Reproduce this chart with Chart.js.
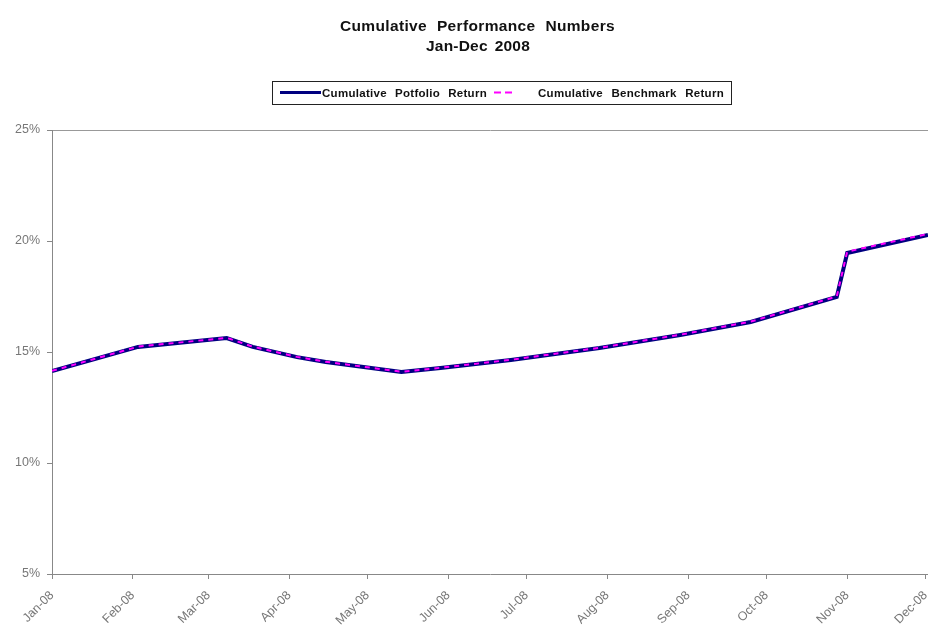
<!DOCTYPE html>
<html><head><meta charset="utf-8">
<script src="https://cdn.jsdelivr.net/npm/chart.js@4.4.0/dist/chart.umd.min.js"></script>
<style>html,body{margin:0;padding:0;background:#fff;}#wrap{width:928px;height:629px;position:relative;}</style>
</head><body><div id="wrap"><canvas id="c" width="928" height="629"></canvas></div>
<script>
const titleLines = ['Cumulative Performance Numbers', 'Jan-Dec 2008'];
const seriesNames = ['Cumulative Potfolio Return', 'Cumulative Benchmark Return'];
const monthLabels = ['Jan-08','Feb-08','Mar-08','Apr-08','May-08','Jun-08','Jul-08','Aug-08','Sep-08','Oct-08','Nov-08','Dec-08'];
const monthStartDays = [0,31,60,91,121,152,182,213,244,274,305,335];
const obsDays = [0,33,67,77,94,105,134,149,176,210,241,268,301,305,336];
const portfolioReturn = [14.14,15.23,15.63,15.23,14.77,14.55,14.10,14.28,14.64,15.18,15.77,16.35,17.48,19.46,20.27];
const benchmarkReturn = [14.15,15.24,15.64,15.24,14.78,14.56,14.11,14.29,14.65,15.19,15.78,16.37,17.50,19.52,20.32];
const yTicks = [5,10,15,20,25];

const FONT = 'Liberation Sans';

function stretchText(ctx, text, left, baseline, targetW, letterShare) {
  ctx.letterSpacing = '0px';
  const natural = ctx.measureText(text).width;
  const extra = Math.max(0, targetW - natural);
  const ls = extra * letterShare / text.length;
  ctx.letterSpacing = ls + 'px';
  const words = text.split(' ');
  const widths = words.map(w => ctx.measureText(w).width);
  const total = widths.reduce((a, b) => a + b, 0);
  const gap = words.length > 1 ? (targetW - total) / (words.length - 1) : 0;
  ctx.textAlign = 'left';
  let x = left;
  words.forEach((w, i) => { ctx.fillText(w, x, baseline); x += widths[i] + gap; });
  ctx.letterSpacing = '0px';
}

const headerPlugin = {
  id: 'header',
  afterDraw(chart) {
    const ctx = chart.ctx;
    ctx.save();
    ctx.fillStyle = '#111';
    ctx.textBaseline = 'alphabetic';
    ctx.font = 'bold 15.5px "' + FONT + '"';
    stretchText(ctx, titleLines[0], 340, 31, 275, 0.5);
    stretchText(ctx, titleLines[1], 426, 51, 104, 0.5);
    ctx.strokeStyle = '#222';
    ctx.lineWidth = 1;
    ctx.strokeRect(272.5, 81.5, 459, 23);
    const ds = chart.data.datasets;
    ctx.beginPath();
    ctx.strokeStyle = ds[0].borderColor;
    ctx.lineWidth = 3;
    ctx.moveTo(280, 92.5); ctx.lineTo(321, 92.5);
    ctx.stroke();
    ctx.beginPath();
    ctx.strokeStyle = ds[1].borderColor;
    ctx.lineWidth = 2;
    ctx.setLineDash([7, 4]);
    ctx.moveTo(494, 92.5); ctx.lineTo(513, 92.5);
    ctx.stroke();
    ctx.setLineDash([]);
    ctx.fillStyle = '#111';
    ctx.font = 'bold 11.5px "' + FONT + '"';
    stretchText(ctx, seriesNames[0], 322, 97, 165, 0.45);
    stretchText(ctx, seriesNames[1], 538, 97, 186, 0.45);
    ctx.restore();
  }
};

new Chart(document.getElementById('c'), {
  type: 'line',
  data: {
    datasets: [
      {
        label: seriesNames[0],
        data: obsDays.map((d, i) => ({ x: d, y: portfolioReturn[i] })),
        borderColor: '#000080',
        borderWidth: 4,
        pointRadius: 0,
        tension: 0,
        order: 1
      },
      {
        label: seriesNames[1],
        data: obsDays.map((d, i) => ({ x: d, y: benchmarkReturn[i] })),
        borderColor: '#FF00FF',
        borderWidth: 2,
        borderDash: [5, 5],
        pointRadius: 0,
        tension: 0,
        order: 0
      }
    ]
  },
  options: {
    responsive: false,
    animation: false,
    devicePixelRatio: 1,
    layout: { padding: { top: 130, left: 0, right: 0, bottom: 0 } },
    plugins: { legend: { display: false }, title: { display: false }, tooltip: { enabled: false } },
    scales: {
      x: {
        type: 'linear',
        min: 0,
        max: 336,
        afterBuildTicks: s => { s.ticks = monthStartDays.map(v => ({ value: v })); },
        afterFit: s => { s.height = 55; s.paddingLeft = 0; s.paddingRight = 0; },
        grid: { drawOnChartArea: false, tickLength: 5, color: '#888' },
        border: { color: '#888', width: 1 },
        ticks: {
          autoSkip: false,
          maxRotation: 45,
          minRotation: 45,
          padding: 9,
          color: '#777',
          font: { family: FONT, size: 12.5 },
          callback: (v, i) => monthLabels[i]
        }
      },
      y: {
        min: 5,
        max: 25,
        afterBuildTicks: s => { s.ticks = yTicks.map(v => ({ value: v })); },
        afterFit: s => { s.width = 52; },
        grid: {
          color: c => (c.tick && c.tick.value === 25) ? '#999' : 'rgba(0,0,0,0)',
          tickColor: '#888',
          tickLength: 5
        },
        border: { color: '#888', width: 1 },
        ticks: {
          padding: 7,
          color: '#777',
          font: { family: FONT, size: 12.5 },
          callback: v => v + '%'
        }
      }
    }
  },
  plugins: [headerPlugin]
});
</script>
</body></html>
